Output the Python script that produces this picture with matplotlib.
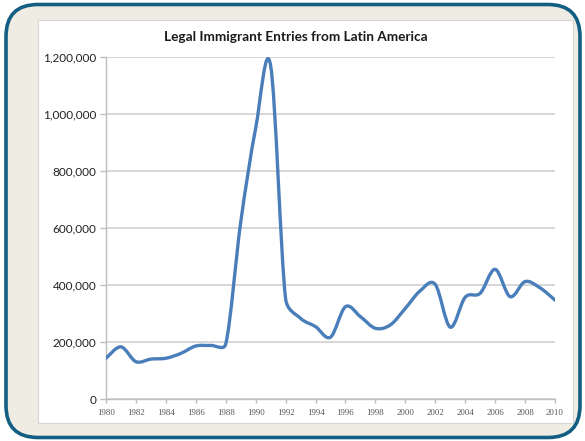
import numpy as np
import matplotlib
matplotlib.use('Agg')
import matplotlib.pyplot as plt
from matplotlib.patches import FancyBboxPatch, Rectangle, PathPatch
from matplotlib.path import Path
from matplotlib.ticker import FuncFormatter

# data
years = list(range(1980, 2011))
entries = [143000, 183000, 131000, 140000, 143000, 160000, 186000, 188000,
           193000, 620000, 950000, 1170000, 352000, 283000, 254000, 217000,
           324000, 289000, 248000, 260000, 318000, 380000, 402000, 252000,
           357000, 371000, 455000, 359000, 412000, 390000, 347000]
title = 'Legal Immigrant Entries from Latin America'

plt.rcParams['font.family'] = ['Lato', 'DejaVu Sans']

fig = plt.figure(figsize=(5.85, 4.41), dpi=100, facecolor='white')

# rounded beige frame and white chart area (inch coordinates)
frame = FancyBboxPatch((0.06, 0.035), 5.74, 4.33,
                       boxstyle='round,pad=0,rounding_size=0.32',
                       transform=fig.dpi_scale_trans, facecolor='#efece3',
                       edgecolor='#135f83', linewidth=2.6, zorder=0)
fig.patches.append(frame)
inner = Rectangle((0.38, 0.18), 5.35, 4.03, transform=fig.dpi_scale_trans,
                  facecolor='white', edgecolor='#d6d6d6', linewidth=0.8, zorder=0.5)
fig.patches.append(inner)

ax = fig.add_axes([106 / 585, 1 - 399 / 441, (555 - 106) / 585, (399 - 57) / 441])
ax.set_facecolor('none')
ax.set_zorder(2)
ax.set_xlim(1980, 2010)
ax.set_ylim(0, 1200000)


def smooth_path(ax, xs, ys):
    # Excel-like smoothed line: Catmull-Rom Bezier, control arms
    # limited to half of the segment length (in screen space)
    pts = ax.transData.transform(np.column_stack([xs, ys]))
    n = len(pts)
    verts = [tuple(pts[0])]
    codes = [Path.MOVETO]
    for i in range(n - 1):
        p0 = pts[max(i - 1, 0)]
        p1 = pts[i]
        p2 = pts[i + 1]
        p3 = pts[min(i + 2, n - 1)]
        d12 = np.hypot(*(p2 - p1))
        d02 = np.hypot(*(p2 - p0))
        d13 = np.hypot(*(p3 - p1))
        f1 = 1 / 6 if d02 / 6 < d12 / 2 else d12 / (2 * d02)
        f2 = 1 / 6 if d13 / 6 < d12 / 2 else d12 / (2 * d13)
        c1 = p1 + (p2 - p0) * f1
        c2 = p2 - (p3 - p1) * f2
        verts += [tuple(c1), tuple(c2), tuple(p2)]
        codes += [Path.CURVE4] * 3
    return Path(ax.transData.inverted().transform(np.array(verts)), codes)


line = PathPatch(smooth_path(ax, years, entries), facecolor='none',
                 edgecolor='#4a7ebb', linewidth=2.4, capstyle='round',
                 joinstyle='round', zorder=3)
ax.add_patch(line)

ax.set_xticks(range(1980, 2011, 2))
ax.set_yticks(range(0, 1200001, 200000))
ax.yaxis.set_major_formatter(FuncFormatter(lambda v, p: f'{int(v):,}'))
ax.grid(axis='y', color='#d4d4d4', linewidth=1.3, zorder=1)
ax.set_axisbelow(True)

for s in ['top', 'right']:
    ax.spines[s].set_visible(False)
for s in ['left', 'bottom']:
    ax.spines[s].set_color('#bdbdbd')
    ax.spines[s].set_linewidth(1.0)

ax.tick_params(axis='y', labelsize=8.5, colors='#bdbdbd', labelcolor='#222222',
               length=4, width=1, pad=3)
ax.tick_params(axis='x', labelsize=6.3, colors='#bdbdbd', labelcolor='#555555',
               length=3, width=1, pad=4)
for lab in ax.get_xticklabels():
    lab.set_fontfamily(['Liberation Serif', 'DejaVu Serif'])

fig.text(296 / 585, 1 - 37 / 441, title, ha='center', va='center',
         fontsize=9.8, fontweight='bold', color='#1a1a1a', zorder=3)

fig.savefig('out.png', dpi=100, facecolor='white')
